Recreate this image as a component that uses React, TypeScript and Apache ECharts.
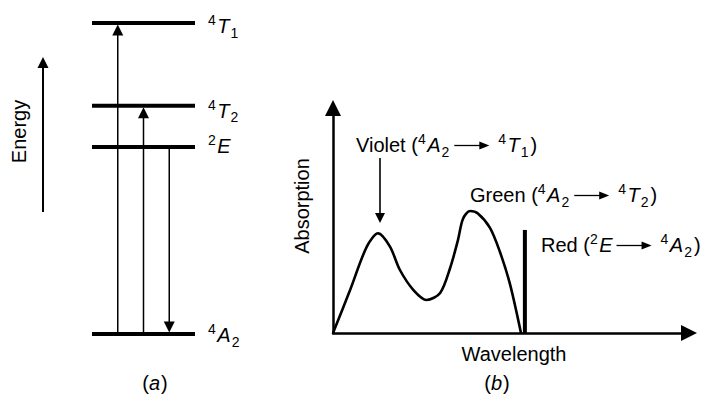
import React, { useEffect, useRef } from "react";
import * as echarts from "echarts";

const W = 709;
const H = 402;

// ---------- Panel (a): energy levels (relative energy, 4A2 = 0, 4T1 = 100) ----------
const levelNames = ["4A2", "2E", "4T2", "4T1"];
const levelEnergies = [0, 60.1, 73.4, 100];
// transitions drawn as arrows between levels
const transitionPositions = [1, 2, 3];
const transitionFrom = ["4A2", "4A2", "2E"];
const transitionTo = ["4T1", "4T2", "4A2"];

// ---------- Panel (b): absorption spectrum (arbitrary units) ----------
const wavelengths = [0, 4.8, 9.5, 12.7, 16.0, 18.8, 22.6, 26.3, 30.1, 32.9, 35.1, 36.5, 38.5, 40.7, 44.1, 46.9, 49.7, 52.8];
const absorptions = [0, 19.1, 38.4, 44.3, 38.4, 28.0, 19.1, 14.7, 17.8, 28.9, 41.3, 50.7, 54.2, 53.1, 46.7, 36.0, 21.8, 0];
const redLineWavelength = 53.9;
const redLineAbsorption = 45.8;
const violetArrowWavelength = 13.2;
const violetArrowFrom = 77.8;
const violetArrowTo = 48.9;

// ---------- Texts ----------
type Part = { k: "n" | "i" | "sup" | "sub" | "arrow"; t: string };
const P = (k: Part["k"], t = ""): Part => ({ k, t });
const levelLabels: Record<string, Part[]> = {
  "4A2": [P("sup", "4"), P("i", "A"), P("sub", "2")],
  "2E": [P("sup", "2"), P("i", "E")],
  "4T2": [P("sup", "4"), P("i", "T"), P("sub", "2")],
  "4T1": [P("sup", "4"), P("i", "T"), P("sub", "1")],
};
const violetText = [P("n", "Violet ("), P("sup", "4"), P("i", "A"), P("sub", "2"), P("arrow"), P("sup", "4"), P("i", "T"), P("sub", "1"), P("n", ")")];
const greenText = [P("n", "Green ("), P("sup", "4"), P("i", "A"), P("sub", "2"), P("arrow"), P("sup", "4"), P("i", "T"), P("sub", "2"), P("n", ")")];
const redText = [P("n", "Red ("), P("sup", "2"), P("i", "E"), P("arrow"), P("sup", "4"), P("i", "A"), P("sub", "2"), P("n", ")")];
const captionA = [P("n", "("), P("i", "a"), P("n", ")")];
const captionB = [P("n", "("), P("i", "b"), P("n", ")")];
const energyTitle = "Energy";
const absorptionTitle = "Absorption";
const wavelengthTitle = "Wavelength";

// ---------- Layout / style ----------
const FONT = "'Liberation Sans', Arial, Helvetica, sans-serif";
const SIZE = 20;
const SMALL = 14;
const levelLabelDy: Record<string, number> = { "4A2": 8, "2E": 6, "4T2": 12, "4T1": 10 };

let measureCtx: CanvasRenderingContext2D | null = null;
function measure(text: string, size: number, italic: boolean) {
  if (!measureCtx) measureCtx = document.createElement("canvas").getContext("2d");
  measureCtx!.font = `${italic ? "italic " : ""}${size}px ${FONT}`;
  return measureCtx!.measureText(text).width;
}

function textEl(t: string, x: number, baseline: number, size: number, italic: boolean, extra: any = {}) {
  return {
    type: "text",
    x,
    y: baseline - 0.3465 * size,
    silent: true,
    ...extra,
    style: {
      text: t,
      fontSize: size,
      fontFamily: FONT,
      fontStyle: italic ? "italic" : "normal",
      fill: "#000",
      align: extra.align || "left",
      textAlign: extra.align || "left",
      verticalAlign: "middle",
      textVerticalAlign: "middle",
    },
  };
}

function arrowEls(x0: number, y0: number, x1: number, y1: number, lw: number, hl: number, hw: number) {
  const dx = x1 - x0, dy = y1 - y0;
  const L = Math.hypot(dx, dy) || 1;
  const ux = dx / L, uy = dy / L;
  const bx = x1 - ux * hl, by = y1 - uy * hl;
  const px = -uy, py = ux;
  return [
    { type: "line", silent: true, shape: { x1: x0, y1: y0, x2: bx + ux, y2: by + uy }, style: { stroke: "#000", lineWidth: lw } },
    { type: "polygon", silent: true, shape: { points: [[x1, y1], [bx + px * hw, by + py * hw], [bx - px * hw, by - py * hw]] }, style: { fill: "#000" } },
  ];
}

const ARROW_PRE = 3;
const ARROW_LEN = 35;
const ARROW_POST = 9;

function partAdvance(p: Part) {
  if (p.k === "arrow") return ARROW_PRE + ARROW_LEN + ARROW_POST;
  const size = p.k === "sup" || p.k === "sub" ? SMALL : SIZE;
  const it = p.k === "i";
  const extra = p.k === "i" ? 1 : p.k === "sup" ? 1.5 : p.k === "sub" ? 2 : 0;
  return measure(p.t, size, it) + extra;
}

function partsWidth(parts: Part[]) {
  return parts.reduce((w, p) => w + partAdvance(p), 0);
}

function richLine(parts: Part[], x0: number, baseline: number) {
  const out: any[] = [];
  let x = x0;
  parts.forEach((p) => {
    if (p.k === "arrow") {
      const ax0 = x + ARROW_PRE;
      const tip = ax0 + ARROW_LEN;
      const y = baseline - 6.5;
      out.push(...arrowEls(ax0, y, tip, y, 1.3, 10, 4));
    } else {
      const size = p.k === "sup" || p.k === "sub" ? SMALL : SIZE;
      const it = p.k === "i";
      const b = p.k === "sup" ? baseline - 8 : p.k === "sub" ? baseline + 4.5 : baseline;
      out.push(textEl(p.t, x, b, size, it));
    }
    x += partAdvance(p);
  });
  return out;
}

function buildOption(): any {
  const energyOf = (name: string) => levelEnergies[levelNames.indexOf(name)];
  const curve = wavelengths.map((w, i) => [w, absorptions[i]]);
  const transitions = transitionPositions.map((x, i) => [x, energyOf(transitionFrom[i]), energyOf(transitionTo[i])]);

  const hidden = { show: false };
  const rotatedTitle = (t: string, cx: number, cy: number) => ({
    type: "text",
    x: cx,
    y: cy,
    rotation: Math.PI / 2,
    silent: true,
    style: {
      text: t, fontSize: SIZE, fontFamily: FONT, fill: "#000",
      align: "center", textAlign: "center", verticalAlign: "middle", textVerticalAlign: "middle",
    },
  });
  const graphicEls: any[] = [
    ...arrowEls(43, 212, 43, 57, 2, 11, 5.5),
    rotatedTitle(energyTitle, 18.5, 131.5),
    rotatedTitle(absorptionTitle, 302, 206),
    textEl(wavelengthTitle, 514, 361, SIZE, false, { align: "center" }),
    ...richLine(violetText, 356, 152),
    ...richLine(greenText, 470, 202),
    ...richLine(redText, 541, 252),
    ...richLine(captionA, 155 - partsWidth(captionA) / 2, 390),
    ...richLine(captionB, 497 - partsWidth(captionB) / 2, 390),
  ];

  return {
    animation: false,
    backgroundColor: "#fff",
    grid: [
      { left: 92, top: 23, width: 103, height: 311 },
      { left: 333, top: 108, right: 20, bottom: 69 },
    ],
    xAxis: [
      { gridIndex: 0, type: "value", min: 0, max: 4, ...hidden },
      {
        gridIndex: 1, type: "value", min: 0, max: 100,
        axisLine: { show: true, symbol: ["none", "triangle"], symbolSize: [16, 16], lineStyle: { color: "#000", width: 2.5 } },
        axisTick: hidden, axisLabel: hidden, splitLine: hidden,
      },
    ],
    yAxis: [
      { gridIndex: 0, type: "value", min: 0, max: 100, ...hidden },
      {
        gridIndex: 1, type: "value", min: 0, max: 100,
        axisLine: { show: true, symbol: ["none", "triangle"], symbolSize: [16, 16], lineStyle: { color: "#000", width: 2.5 } },
        axisTick: hidden, axisLabel: hidden, splitLine: hidden,
      },
    ],
    series: [
      {
        type: "custom", name: "levels", xAxisIndex: 0, yAxisIndex: 0, clip: false,
        data: levelEnergies.map((e) => [0, e]),
        renderItem: (params: any, api: any) => {
          const name = levelNames[params.dataIndex];
          const e = api.value(1);
          const p0 = api.coord([0, e]);
          const p1 = api.coord([4, e]);
          return {
            type: "group",
            children: [
              { type: "line", shape: { x1: p0[0], y1: p0[1], x2: p1[0], y2: p1[1] }, style: { stroke: "#000", lineWidth: 4 } },
              ...richLine(levelLabels[name], p1[0] + 13, p1[1] + levelLabelDy[name]),
            ],
          };
        },
      },
      {
        type: "custom", name: "transitions", xAxisIndex: 0, yAxisIndex: 0, clip: false,
        data: transitions,
        renderItem: (params: any, api: any) => {
          const x = api.value(0);
          const p0 = api.coord([x, api.value(1)]);
          const p1 = api.coord([x, api.value(2)]);
          const dir = p1[1] > p0[1] ? 1 : -1;
          return { type: "group", children: arrowEls(p0[0], p0[1], p1[0], p1[1] - dir * 1.5, 1.5, 11, 5.5) };
        },
      },
      {
        type: "line", name: "absorption", xAxisIndex: 1, yAxisIndex: 1,
        data: curve, smooth: 0.3, symbol: "none",
        lineStyle: { color: "#000", width: 2.6 },
      },
      {
        type: "line", name: "red", xAxisIndex: 1, yAxisIndex: 1,
        data: [[redLineWavelength, 0], [redLineWavelength, redLineAbsorption]], symbol: "none",
        lineStyle: { color: "#000", width: 4, cap: "butt" },
      },
      {
        type: "custom", name: "violetArrow", xAxisIndex: 1, yAxisIndex: 1, clip: false,
        data: [[violetArrowWavelength, violetArrowFrom, violetArrowTo]],
        renderItem: (params: any, api: any) => {
          const x = api.value(0);
          const p0 = api.coord([x, api.value(1)]);
          const p1 = api.coord([x, api.value(2)]);
          return { type: "group", children: arrowEls(p0[0], p0[1], p1[0], p1[1], 1.6, 10, 5) };
        },
      },
    ],
    graphic: { elements: graphicEls },
  };
}

export default function App() {
  const ref = useRef<HTMLDivElement>(null);
  useEffect(() => {
    const chart = echarts.init(ref.current!, null, { renderer: "svg", width: W, height: H });
    chart.setOption(buildOption());
    return () => chart.dispose();
  }, []);
  return <div ref={ref} style={{ position: "fixed", left: 0, top: 0, width: W, height: H, background: "#fff" }} />;
}
